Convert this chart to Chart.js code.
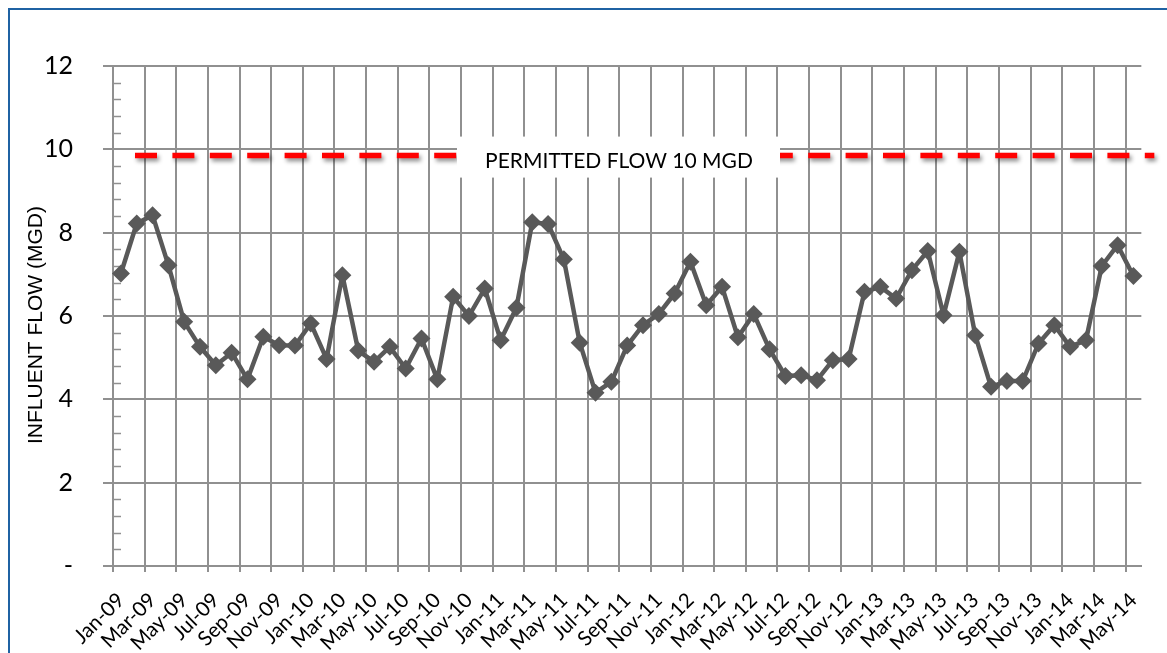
<!DOCTYPE html>
<html>
<head>
<meta charset="utf-8">
<title>Influent Flow</title>
<script src="https://cdn.jsdelivr.net/npm/chart.js@4.4.1/dist/chart.umd.min.js"></script>
<style>
  html, body { margin: 0; padding: 0; background: #ffffff; }
  #wrap { position: relative; width: 1167px; height: 653px; overflow: hidden; }
  #frame {
    position: absolute; left: 8px; top: 8px; width: 1180px; height: 680px;
    border: 2.5px solid #1f62a3; box-sizing: border-box; pointer-events: none;
  }
  canvas { position: absolute; left: 0; top: 0; }
</style>
</head>
<body>
<div id="wrap">
  <canvas id="chart" width="1167" height="653"></canvas>
  <div id="frame"></div>
</div>
<script>
// Monthly influent flow, Jan 2009 - May 2014 (MGD)
const months = [
  'Jan-09','Feb-09','Mar-09','Apr-09','May-09','Jun-09','Jul-09','Aug-09','Sep-09','Oct-09','Nov-09','Dec-09',
  'Jan-10','Feb-10','Mar-10','Apr-10','May-10','Jun-10','Jul-10','Aug-10','Sep-10','Oct-10','Nov-10','Dec-10',
  'Jan-11','Feb-11','Mar-11','Apr-11','May-11','Jun-11','Jul-11','Aug-11','Sep-11','Oct-11','Nov-11','Dec-11',
  'Jan-12','Feb-12','Mar-12','Apr-12','May-12','Jun-12','Jul-12','Aug-12','Sep-12','Oct-12','Nov-12','Dec-12',
  'Jan-13','Feb-13','Mar-13','Apr-13','May-13','Jun-13','Jul-13','Aug-13','Sep-13','Oct-13','Nov-13','Dec-13',
  'Jan-14','Feb-14','Mar-14','Apr-14','May-14'
];

const influentFlow = [
  7.02, 8.22, 8.42, 7.22, 5.86, 5.26, 4.82, 5.12, 4.48, 5.50, 5.30, 5.29,
  5.82, 4.97, 6.98, 5.17, 4.90, 5.26, 4.74, 5.46, 4.48, 6.46, 6.00, 6.66,
  5.42, 6.20, 8.25, 8.21, 7.36, 5.36, 4.16, 4.42, 5.29, 5.78, 6.05, 6.54,
  7.30, 6.26, 6.70, 5.49, 6.05, 5.20, 4.56, 4.58, 4.46, 4.94, 4.97, 6.58,
  6.70, 6.42, 7.10, 7.56, 6.02, 7.54, 5.54, 4.30, 4.44, 4.44, 5.34, 5.78,
  5.26, 5.42, 7.20, 7.70, 6.96
];

const yTicks = [0, 2, 4, 6, 8, 10, 12];
const permittedFlow = 9.85;
const permittedLabel = 'PERMITTED FLOW 10 MGD';
const yTitle = 'INFLUENT FLOW (MGD)';

const GRID = '#909090';

// Permitted-flow reference line, its caption box, minor ticks and the axis title
const overlay = {
  id: 'overlay',
  beforeDatasetsDraw(chart) {
    const {ctx, chartArea, scales: {y}} = chart;

    // minor ticks on the inside of the value axis
    ctx.save();
    ctx.strokeStyle = GRID;
    ctx.lineWidth = 1.5;
    for (let i = 0; i < yTicks.length - 1; i++) {
      const a = yTicks[i], b = yTicks[i + 1];
      for (let k = 1; k < 5; k++) {
        const py = Math.round(y.getPixelForValue(a + (b - a) * k / 5)) + 0.5;
        ctx.beginPath();
        ctx.moveTo(chartArea.left, py);
        ctx.lineTo(chartArea.left + 8, py);
        ctx.stroke();
      }
    }
    ctx.restore();

    // dashed permitted-flow line
    const ly = y.getPixelForValue(permittedFlow);
    ctx.save();
    ctx.strokeStyle = '#ff0000';
    ctx.lineWidth = 5.5;
    ctx.setLineDash([22, 15.4]);
    ctx.shadowColor = 'rgba(0,0,0,0.45)';
    ctx.shadowBlur = 4;
    ctx.shadowOffsetX = 2;
    ctx.shadowOffsetY = 3;
    ctx.beginPath();
    ctx.moveTo(chartArea.left + 22, ly);
    ctx.lineTo(chartArea.right + 13, ly);
    ctx.stroke();
    ctx.restore();

    // caption box
    ctx.save();
    ctx.fillStyle = '#ffffff';
    ctx.fillRect(457, ly - 19, 323, 41);
    ctx.fillStyle = '#000000';
    ctx.font = '21px Lato';
    ctx.textAlign = 'center';
    ctx.textBaseline = 'middle';
    ctx.fillText(permittedLabel, 619, ly + 6);
    ctx.restore();

    // value axis title
    ctx.save();
    ctx.translate(36, (chartArea.top + chartArea.bottom) / 2 + 9);
    ctx.rotate(-Math.PI / 2);
    ctx.fillStyle = '#000000';
    ctx.font = '21px "Liberation Sans"';
    ctx.textAlign = 'center';
    ctx.textBaseline = 'middle';
    ctx.fillText(yTitle, 0, 0);
    ctx.restore();
  }
};

new Chart(document.getElementById('chart'), {
  type: 'line',
  data: {
    labels: months,
    datasets: [{
      label: 'Influent Flow',
      data: influentFlow,
      borderColor: '#595959',
      backgroundColor: '#595959',
      borderWidth: 4.5,
      borderJoinStyle: 'round',
      tension: 0,
      pointStyle: 'rectRot',
      pointRadius: 9,
      pointBorderWidth: 0,
      pointBackgroundColor: '#595959'
    }]
  },
  options: {
    responsive: false,
    animation: false,
    layout: { padding: { top: 66, right: 24, left: 0, bottom: 0 } },
    plugins: { legend: { display: false }, tooltip: { enabled: false } },
    scales: {
      x: {
        offset: true,
        afterFit(scale) { scale.height = 87; },
        grid: {
          offset: true,
          lineWidth: 2,
          tickLength: 6,
          color: (c) => (c.index % 2 === 0 ? GRID : 'rgba(0,0,0,0)'),
          tickColor: (c) => (c.index % 2 === 0 ? GRID : 'rgba(0,0,0,0)')
        },
        border: { display: true, color: GRID, width: 2 },
        ticks: {
          autoSkip: false,
          maxRotation: 45,
          minRotation: 45,
          padding: 16,
          color: '#000000',
          font: { family: 'Lato', size: 20.5 },
          callback: (v, i) => (i % 2 === 0 ? months[i] : '')
        }
      },
      y: {
        min: 0,
        max: 12,
        afterFit(scale) { scale.width = 113; },
        afterBuildTicks(scale) { scale.ticks = yTicks.map(v => ({ value: v })); },
        grid: { lineWidth: 2, color: GRID, tickLength: 10, tickColor: GRID },
        border: { display: true, color: GRID, width: 2 },
        ticks: {
          padding: 30,
          color: '#000000',
          font: { family: 'Lato', size: 25 },
          callback: (v) => (v === 0 ? '-' : v)
        }
      }
    }
  },
  plugins: [overlay]
});
</script>
</body>
</html>
